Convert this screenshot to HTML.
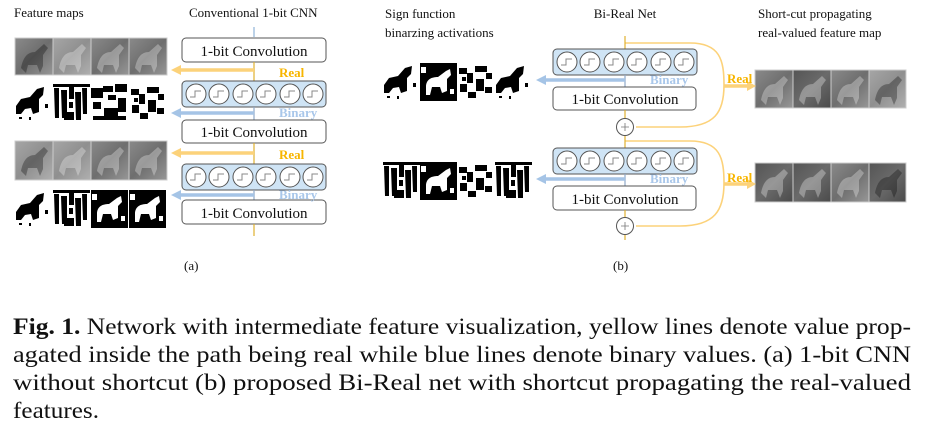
<!DOCTYPE html>
<html><head><meta charset="utf-8"><style>
html,body{margin:0;padding:0;background:#fff;}
svg{display:block}
.t{font-family:"Liberation Serif",serif;}
</style></head><body>
<svg width="925" height="435" viewBox="0 0 925 435" xmlns="http://www.w3.org/2000/svg">
<defs>
<linearGradient id="g1" x1="0" y1="0" x2="1" y2="1"><stop offset="0" stop-color="#8a8a8a"/><stop offset="0.5" stop-color="#6e6e6e"/><stop offset="1" stop-color="#979797"/></linearGradient>
<linearGradient id="g2" x1="0" y1="0" x2="1" y2="1"><stop offset="0" stop-color="#a6a6a6"/><stop offset="0.5" stop-color="#8f8f8f"/><stop offset="1" stop-color="#b0b0b0"/></linearGradient>
<linearGradient id="g3" x1="0" y1="0" x2="1" y2="1"><stop offset="0" stop-color="#555"/><stop offset="0.5" stop-color="#6a6a6a"/><stop offset="1" stop-color="#4a4a4a"/></linearGradient>
<g id="circ"><circle r="10" fill="#fff" stroke="#555" stroke-width="1"/><path d="M-6,3 H-1 V-3 H5" fill="none" stroke="#888" stroke-width="1"/></g>
<g id="sign">
<rect x="0" y="0" width="144" height="26" rx="4" fill="#cfe4f5" stroke="#555" stroke-width="1"/>
<use href="#circ" x="14" y="13"/><use href="#circ" x="37" y="13"/><use href="#circ" x="61" y="13"/><use href="#circ" x="84" y="13"/><use href="#circ" x="108" y="13"/><use href="#circ" x="131" y="13"/>
</g>
<g id="horseG"><path d="M6,30 C8,20 12,14 20,14 L29,6 L33,10 L28,17 L28,28 L25,35 L22,27 L13,27 L11,35 Z" fill="rgba(255,255,255,0.3)"/></g>
<g id="horseD"><path d="M6,30 C8,20 12,14 20,14 L29,6 L33,10 L28,17 L28,28 L25,35 L22,27 L13,27 L11,35 Z" fill="rgba(0,0,0,0.3)"/></g>
<g id="binA"><rect width="37" height="38" fill="#fff"/><path d="M1,22 L6,15 L15,13 L22,5 L29,3 L28,11 L24,15 L24,28 L18,30 L16,24 L10,25 L6,30 L1,30 Z" fill="#000"/><rect x="4" y="33" width="3" height="2"/><rect x="14" y="33" width="2" height="3"/><rect x="30" y="20" width="3" height="4"/></g>
<g id="binB"><rect width="37" height="38" fill="#fff"/><rect x="0" y="0" width="37" height="3"/><path d="M1,4 h5 v30 h-4z M8,6 h6 v28 h-5z M16,3 h5 v12 h-5z M22,8 h6 v28 h-5z M29,4 h5 v26 h-4z M11,28 h10 v8 h-10z M16,18 h4 v6 h-4z"/></g>
<g id="binC"><rect width="37" height="38" fill="#fff"/><path d="M0,4 h12 v10 h-12z M12,2 h10 v6 h-10z M24,0 h12 v8 h-12z M2,18 h8 v7 h-8z M13,24 h14 v8 h-14z M27,14 h8 v14 h-8z M2,32 h33 v4 h-33z M17,11 h8 v5 h-8z"/></g>
<g id="binD"><rect width="37" height="38" fill="#000"/><path d="M6,24 C6,16 12,14 18,14 L26,8 L30,6 L31,12 L27,16 L27,28 L22,30 L20,24 L12,24 L10,32 L6,32 Z" fill="#fff"/><rect x="1" y="4" width="5" height="6" fill="#fff"/><rect x="30" y="26" width="4" height="5" fill="#fff"/></g>
<g id="binE"><rect width="37" height="38" fill="#fff"/><path d="M2,5 h8 v6 h-8z M10,10 h6 v10 h-6z M18,3 h12 v6 h-12z M3,21 h7 v8 h-7z M19,16 h8 v12 h-8z M28,24 h7 v6 h-7z M11,29 h8 v6 h-8z M29,10 h6 v6 h-6z M5,14 h4 v4 h-4z"/></g>
</defs>

<!-- ====== Panel (a) ====== -->
<text class="t" x="14" y="17" font-size="13" fill="#111">Feature maps</text>
<text class="t" x="189" y="17" font-size="13" fill="#111">Conventional 1-bit CNN</text>

<g stroke="#ccc" stroke-width="1">
<rect x="15" y="38" width="38" height="37" fill="url(#g1)"/>
<rect x="53" y="38" width="38" height="37" fill="url(#g2)"/>
<rect x="91" y="38" width="38" height="37" fill="url(#g1)"/>
<rect x="129" y="38" width="38" height="37" fill="url(#g1)"/>
</g>
<use href="#horseD" x="15" y="38"/><use href="#horseG" x="53" y="38"/><use href="#horseG" x="91" y="38"/><use href="#horseG" x="129" y="38"/>
<use href="#binA" x="15" y="84"/><use href="#binB" x="53" y="84"/><use href="#binC" x="91" y="84"/><use href="#binE" x="129" y="84"/>
<g stroke="#ccc" stroke-width="1">
<rect x="15" y="141" width="38" height="39" fill="url(#g2)"/>
<rect x="53" y="141" width="38" height="39" fill="url(#g2)"/>
<rect x="91" y="141" width="38" height="39" fill="url(#g1)"/>
<rect x="129" y="141" width="38" height="39" fill="url(#g1)"/>
</g>
<use href="#horseD" x="15" y="141"/><use href="#horseG" x="53" y="141"/><use href="#horseG" x="91" y="141"/><use href="#horseG" x="129" y="141"/>
<use href="#binA" x="15" y="190"/><use href="#binB" x="53" y="190"/><use href="#binD" x="91" y="190"/><use href="#binD" x="129" y="190"/>

<g stroke="#8fb3d9" stroke-width="1.2"><line x1="254" y1="27" x2="254" y2="37"/></g>
<rect x="182" y="38" width="144" height="24" rx="4" fill="#fff" stroke="#555"/>
<text class="t" x="254" y="56" font-size="15" text-anchor="middle" fill="#111">1-bit Convolution</text>
<line x1="254" y1="62" x2="254" y2="81" stroke="#e0b030" stroke-width="1.2"/>
<use href="#sign" x="182" y="81"/>
<line x1="254" y1="107" x2="254" y2="120" stroke="#8fa8c8" stroke-width="1.2"/>
<rect x="182" y="120" width="144" height="23" rx="4" fill="#fff" stroke="#555"/>
<text class="t" x="254" y="137" font-size="15" text-anchor="middle" fill="#111">1-bit Convolution</text>
<line x1="254" y1="143" x2="254" y2="164" stroke="#e0b030" stroke-width="1.2"/>
<use href="#sign" x="182" y="164"/>
<line x1="254" y1="190" x2="254" y2="200" stroke="#8fa8c8" stroke-width="1.2"/>
<rect x="182" y="200" width="144" height="24" rx="4" fill="#fff" stroke="#555"/>
<text class="t" x="254" y="218" font-size="15" text-anchor="middle" fill="#111">1-bit Convolution</text>
<line x1="254" y1="224" x2="254" y2="236" stroke="#e0b030" stroke-width="1.2"/>

<g stroke-width="3.5">
<line x1="254" y1="70" x2="180" y2="70" stroke="#fcd27a"/>
<line x1="254" y1="113" x2="180" y2="113" stroke="#a5c4e6"/>
<line x1="254" y1="153" x2="180" y2="153" stroke="#fcd27a"/>
<line x1="254" y1="195" x2="180" y2="195" stroke="#a5c4e6"/>
</g>
<polygon points="171,70 181,65 181,75" fill="#fcd27a"/>
<polygon points="171,113 181,108 181,118" fill="#a5c4e6"/>
<polygon points="171,153 181,148 181,158" fill="#fcd27a"/>
<polygon points="171,195 181,190 181,200" fill="#a5c4e6"/>
<g class="t" font-size="13" font-weight="bold">
<text x="279" y="77" fill="#f7b500">Real</text>
<text x="279" y="117" fill="#a9c7ea">Binary</text>
<text x="279" y="159" fill="#f7b500">Real</text>
<text x="279" y="199" fill="#a9c7ea">Binary</text>
</g>
<text class="t" x="184" y="270" font-size="13" fill="#111">(a)</text>

<!-- ====== Panel (b) ====== -->
<text class="t" x="385" y="18" font-size="13" fill="#111">Sign function</text>
<text class="t" x="385" y="37" font-size="13" fill="#111">binarzing activations</text>
<text class="t" x="625" y="18" font-size="13" fill="#111" text-anchor="middle">Bi-Real Net</text>
<text class="t" x="758" y="18" font-size="13" fill="#111">Short-cut propagating</text>
<text class="t" x="758" y="37" font-size="13" fill="#111">real-valued feature map</text>

<use href="#binA" x="383" y="63"/><use href="#binD" x="420" y="63"/><use href="#binE" x="457" y="63"/><use href="#binA" x="495" y="63"/>
<use href="#binB" x="383" y="162"/><use href="#binD" x="420" y="162"/><use href="#binE" x="457" y="162"/><use href="#binB" x="495" y="162"/>

<g stroke="#ccc" stroke-width="1">
<rect x="755" y="70" width="38" height="38" fill="url(#g1)"/>
<rect x="793" y="70" width="38" height="38" fill="url(#g3)"/>
<rect x="831" y="70" width="38" height="38" fill="url(#g1)"/>
<rect x="869" y="70" width="37" height="38" fill="url(#g2)"/>
<rect x="755" y="163" width="38" height="39" fill="url(#g3)"/>
<rect x="793" y="163" width="38" height="39" fill="url(#g3)"/>
<rect x="831" y="163" width="38" height="39" fill="url(#g1)"/>
<rect x="869" y="163" width="37" height="39" fill="url(#g3)"/>
</g>
<use href="#horseG" x="755" y="70"/><use href="#horseG" x="793" y="70"/><use href="#horseG" x="831" y="70"/><use href="#horseD" x="869" y="70"/>
<use href="#horseG" x="755" y="163"/><use href="#horseG" x="793" y="163"/><use href="#horseG" x="831" y="163"/><use href="#horseD" x="869" y="163"/>

<g fill="none" stroke="#fcd27a" stroke-width="1.6">
<path d="M625,43 H690 C720,43 724,60 724,85 C724,112 715,127 680,127 H636"/>
<path d="M625,141 H690 C720,141 724,158 724,183 C724,210 715,226 680,226 H636"/>
</g>
<g stroke="#fcd27a" stroke-width="3.5">
<line x1="724" y1="86" x2="748" y2="86"/>
<line x1="724" y1="184" x2="748" y2="184"/>
</g>
<polygon points="756,86 747,81 747,91" fill="#fcd27a"/>
<polygon points="756,184 747,179 747,189" fill="#fcd27a"/>
<g class="t" font-size="13" font-weight="bold" fill="#f7b500">
<text x="727" y="83">Real</text>
<text x="727" y="182">Real</text>
</g>

<line x1="625" y1="36" x2="625" y2="50" stroke="#e0b030" stroke-width="1.2"/>
<use href="#sign" x="553" y="49"/>
<line x1="625" y1="75" x2="625" y2="87" stroke="#8fa8c8" stroke-width="1.2"/>
<rect x="553" y="87" width="143" height="23" rx="4" fill="#fff" stroke="#555"/>
<text class="t" x="625" y="104" font-size="15" text-anchor="middle" fill="#111">1-bit Convolution</text>
<line x1="625" y1="110" x2="625" y2="118" stroke="#e0b030" stroke-width="1.2"/>
<circle cx="625" cy="127" r="8.5" fill="#fff" stroke="#555"/>
<path d="M621,127 h8 M625,123 v8" stroke="#777" stroke-width="0.8"/>
<line x1="625" y1="136" x2="625" y2="149" stroke="#e0b030" stroke-width="1.2"/>
<use href="#sign" x="553" y="148"/>
<line x1="625" y1="174" x2="625" y2="186" stroke="#8fa8c8" stroke-width="1.2"/>
<rect x="553" y="186" width="143" height="24" rx="4" fill="#fff" stroke="#555"/>
<text class="t" x="625" y="204" font-size="15" text-anchor="middle" fill="#111">1-bit Convolution</text>
<line x1="625" y1="210" x2="625" y2="217" stroke="#e0b030" stroke-width="1.2"/>
<circle cx="625" cy="226" r="8.5" fill="#fff" stroke="#555"/>
<path d="M621,226 h8 M625,222 v8" stroke="#777" stroke-width="0.8"/>
<line x1="625" y1="235" x2="625" y2="240" stroke="#e0b030" stroke-width="1.2"/>

<g stroke="#a5c4e6" stroke-width="3.5">
<line x1="625" y1="80" x2="545" y2="80"/>
<line x1="625" y1="179" x2="545" y2="179"/>
</g>
<polygon points="536,80 546,75 546,85" fill="#a5c4e6"/>
<polygon points="536,179 546,174 546,184" fill="#a5c4e6"/>
<g class="t" font-size="13" font-weight="bold" fill="#a9c7ea">
<text x="650" y="84">Binary</text>
<text x="650" y="183">Binary</text>
</g>
<text class="t" x="613" y="270" font-size="13" fill="#111">(b)</text>

<!-- caption -->
<g class="t" font-size="23" fill="#111">
<text x="13" y="334" textLength="898" lengthAdjust="spacingAndGlyphs"><tspan font-weight="bold">Fig. 1.</tspan> Network with intermediate feature visualization, yellow lines denote value prop-</text>
<text x="13" y="362" textLength="898" lengthAdjust="spacingAndGlyphs">agated inside the path being real while blue lines denote binary values. (a) 1-bit CNN</text>
<text x="13" y="390" textLength="898" lengthAdjust="spacingAndGlyphs">without shortcut (b) proposed Bi-Real net with shortcut propagating the real-valued</text>
<text x="13" y="418" textLength="86" lengthAdjust="spacingAndGlyphs">features.</text>
</g>
</svg>
</body></html>
